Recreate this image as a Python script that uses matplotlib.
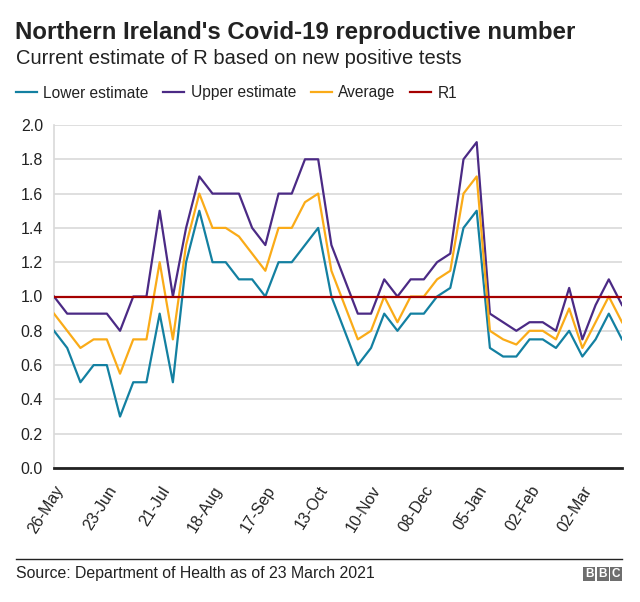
import matplotlib
matplotlib.use("Agg")
import matplotlib.pyplot as plt
from matplotlib.patches import Rectangle
from matplotlib.lines import Line2D

plt.rcParams['font.family'] = ['Liberation Sans', 'DejaVu Sans']

tick_labels = ['26-May', '23-Jun', '21-Jul', '18-Aug', '17-Sep', '13-Oct',
               '10-Nov', '08-Dec', '05-Jan', '02-Feb', '02-Mar']

lower = [0.8, 0.7, 0.5, 0.6, 0.6, 0.3, 0.5, 0.5, 0.9, 0.5, 1.2, 1.5,
         1.2, 1.2, 1.1, 1.1, 1.0, 1.2, 1.2, 1.3, 1.4, 1.0, 0.8, 0.6,
         0.7, 0.9, 0.8, 0.9, 0.9, 1.0, 1.05, 1.4, 1.5, 0.7, 0.65, 0.65,
         0.75, 0.75, 0.7, 0.8, 0.65, 0.75, 0.9, 0.75]
upper = [1.0, 0.9, 0.9, 0.9, 0.9, 0.8, 1.0, 1.0, 1.5, 1.0, 1.4, 1.7,
         1.6, 1.6, 1.6, 1.4, 1.3, 1.6, 1.6, 1.8, 1.8, 1.3, 1.1, 0.9,
         0.9, 1.1, 1.0, 1.1, 1.1, 1.2, 1.25, 1.8, 1.9, 0.9, 0.85, 0.8,
         0.85, 0.85, 0.8, 1.05, 0.75, 0.95, 1.1, 0.95]
average = [0.9, 0.8, 0.7, 0.75, 0.75, 0.55, 0.75, 0.75, 1.2, 0.75, 1.3, 1.6,
           1.4, 1.4, 1.35, 1.25, 1.15, 1.4, 1.4, 1.55, 1.6, 1.15, 0.95, 0.75,
           0.8, 1.0, 0.85, 1.0, 1.0, 1.1, 1.15, 1.6, 1.7, 0.8, 0.75, 0.72,
           0.8, 0.8, 0.75, 0.93, 0.7, 0.85, 1.0, 0.85]
r1 = 1.0

TEAL = '#1380A1'
PURPLE = '#4B2A85'
ORANGE = '#FAAB18'
RED = '#A50000'

fig = plt.figure(figsize=(6.4, 6.02), dpi=100)
W, H = 640, 602
ax = fig.add_axes([54 / W, (H - 468) / H, (622 - 54) / W, (468 - 125) / H])

x = list(range(len(lower)))
ax.plot(x, lower, color=TEAL, lw=1.6, label='Lower estimate', zorder=3)
ax.plot(x, upper, color=PURPLE, lw=1.6, label='Upper estimate', zorder=3)
ax.plot(x, average, color=ORANGE, lw=1.6, label='Average', zorder=3)
ax.axhline(r1, color=RED, lw=1.6, label='R1', zorder=4)

ax.set_xlim(0, len(lower) - 1)
ax.set_ylim(0, 2.0)
ax.set_yticks([i / 10 for i in range(0, 21, 2)])
ax.set_yticklabels([f'{i / 10:.1f}' for i in range(0, 21, 2)], fontsize=11.5, color='#222222')
ax.set_xticks(list(range(0, 4 * len(tick_labels), 4)))
ax.set_xticklabels(tick_labels, rotation=58, ha='right', rotation_mode='anchor',
                   fontsize=11.5, color='#222222')
ax.tick_params(axis='both', length=0)
ax.tick_params(axis='y', pad=8)
ax.tick_params(axis='x', pad=11)
ax.grid(axis='y', color='#d9d9d9', lw=1.2)
ax.set_axisbelow(True)
for s in ['top', 'right']:
    ax.spines[s].set_visible(False)
ax.spines['left'].set_color('#d9d9d9')
ax.spines['left'].set_linewidth(1.2)
ax.spines['bottom'].set_color('#222222')
ax.spines['bottom'].set_linewidth(2)
ax.spines['bottom'].set_zorder(5)

fig.text(15 / W, 1 - 39 / H, "Northern Ireland's Covid-19 reproductive number",
         fontsize=17.3, fontweight='bold', color='#222222', va='baseline')
fig.text(16 / W, 1 - 64 / H, "Current estimate of R based on new positive tests",
         fontsize=14.5, color='#222222', va='baseline')

handles, labels = ax.get_legend_handles_labels()
leg = fig.legend(handles, labels, loc='center left', bbox_to_anchor=(16 / W, 1 - 93 / H),
                 ncol=4, frameon=False, fontsize=11.2, handlelength=1.35,
                 handletextpad=0.4, columnspacing=0.95, borderaxespad=0, borderpad=0)
for t in leg.get_texts():
    t.set_color('#222222')

fig.add_artist(Line2D([16 / W, 622 / W], [1 - 559 / H, 1 - 559 / H],
                      color='#222222', lw=1.0, transform=fig.transFigure))
fig.text(16 / W, 1 - 578 / H, "Source: Department of Health as of 23 March 2021",
         fontsize=11.4, color='#222222', va='baseline')

bw, bh = 12, 14
for i, letter in enumerate('BBC'):
    x0 = 583 + i * 13.5
    fig.add_artist(Rectangle((x0 / W, 1 - 581 / H), bw / W, bh / H,
                             transform=fig.transFigure, color='#6e6e6e', lw=0))
    fig.text((x0 + bw / 2) / W, 1 - 574 / H, letter, fontsize=8.5, fontweight='bold',
             color='white', ha='center', va='center')

fig.savefig('out.png', dpi=100)
